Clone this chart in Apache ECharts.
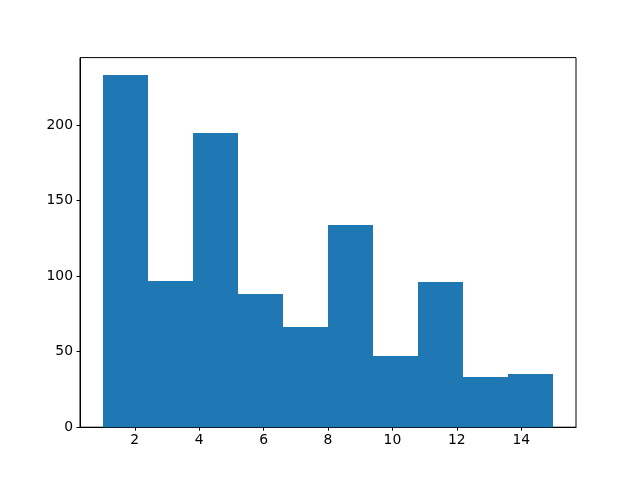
<!DOCTYPE html>
<html>
<head>
<meta charset="utf-8">
<script src="https://cdn.jsdelivr.net/npm/echarts@6/dist/echarts.min.js"></script>
<style>html,body{margin:0;padding:0;background:#fff}#c{width:640px;height:480px}</style>
</head>
<body>
<div id="c"></div>
<script>
var binEdges = [1, 2.4, 3.8, 5.2, 6.6, 8, 9.4, 10.8, 12.2, 13.6, 15];
var counts = [233, 97, 195, 88, 66, 134, 47, 96, 33, 35];
var xTicks = [2, 4, 6, 8, 10, 12, 14];
var yTicks = [0, 50, 100, 150, 200];

var data = counts.map(function (c, i) { return [binEdges[i], binEdges[i + 1], c]; });
var chart = echarts.init(document.getElementById('c'), null, { renderer: 'canvas' });
var font = 'DejaVu Sans';
chart.setOption({
  animation: false,
  grid: { left: 80, right: 64, top: 57.6, bottom: 52.8, show: true, borderColor: '#000', borderWidth: 1, backgroundColor: 'transparent' },
  xAxis: {
    type: 'value', min: 0.3, max: 15.7,
    axisLine: { show: true, onZero: false, lineStyle: { color: '#000', width: 1 } },
    axisTick: { show: true, inside: false, length: 3.5, customValues: xTicks, lineStyle: { color: '#000' } },
    axisLabel: { customValues: xTicks, color: '#000', fontFamily: font, fontSize: 13.9, margin: 6 },
    splitLine: { show: false }
  },
  yAxis: {
    type: 'value', min: 0, max: 244.65,
    axisLine: { show: true, lineStyle: { color: '#000', width: 1 } },
    axisTick: { show: true, inside: false, length: 3.5, customValues: yTicks, lineStyle: { color: '#000' } },
    axisLabel: { customValues: yTicks, color: '#000', fontFamily: font, fontSize: 13.9, margin: 7 },
    splitLine: { show: false }
  },
  series: [{
    type: 'custom',
    data: data,
    renderItem: function (params, api) {
      var p0 = api.coord([api.value(0), api.value(2)]);
      var p1 = api.coord([api.value(1), 0]);
      var x0 = Math.round(p0[0]), x1 = Math.round(p1[0]);
      var y0 = Math.round(p0[1]), y1 = p1[1];
      return {
        type: 'rect',
        shape: { x: x0, y: y0, width: x1 - x0, height: y1 - y0 },
        style: { fill: '#1f77b4' }
      };
    }
  }]
});
</script>
</body>
</html>
